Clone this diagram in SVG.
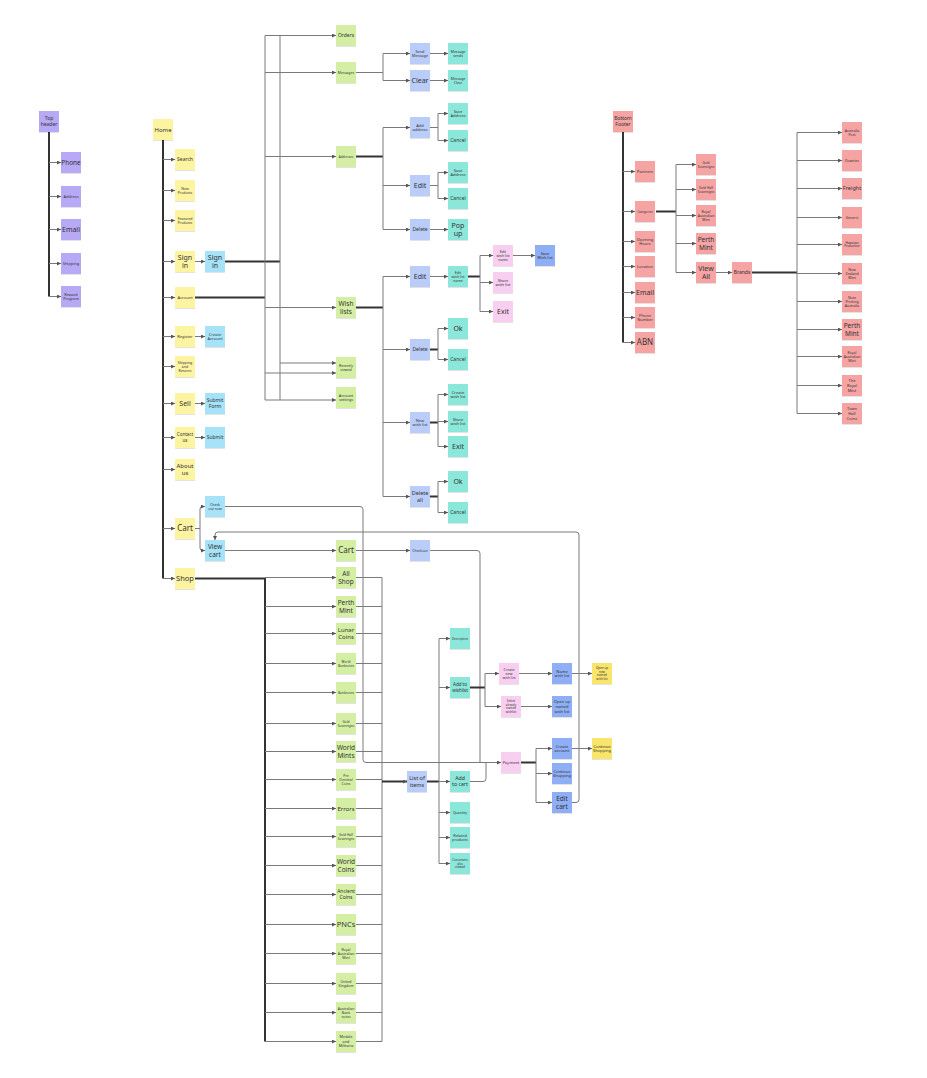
<svg xmlns="http://www.w3.org/2000/svg" width="927" height="1078" viewBox="0 0 927 1078">
<style>
text{font-family:"Noto Sans","Liberation Sans",sans-serif;fill:#333;text-anchor:middle}
rect.y,rect.b,rect.g,rect.p,rect.t,rect.k,rect.d,rect.o,rect.r,rect.v{filter:url(#sh)}
.y{fill:#fdf4a1}.b{fill:#a6e2f8}.g{fill:#d4efa4}.p{fill:#bacdf9}.t{fill:#8be7da}.k{fill:#f8cff0}.d{fill:#8eaef5}.o{fill:#f9e46c}.r{fill:#f5a3a3}.v{fill:#b7a9f5}
.c{fill:none;stroke:#7a7a7a;stroke-width:1}
.a{fill:none;stroke:#7a7a7a;stroke-width:1;marker-end:url(#ar)}
.h{fill:none;stroke:#333;stroke-width:2}
.ha{fill:none;stroke:#333;stroke-width:2;marker-end:url(#ar)}
</style>
<defs>
<marker id="ar" viewBox="0 0 6 6" refX="6" refY="3" markerWidth="4" markerHeight="4" orient="auto" markerUnits="userSpaceOnUse"><path d="M0,0 L6,3 L0,6z" fill="#555"/></marker>
<filter id="sh" x="-20%" y="-20%" width="140%" height="150%"><feDropShadow dx="0" dy="0.6" stdDeviation="0.5" flood-color="#000" flood-opacity="0.18"/></filter>
</defs>
<rect width="927" height="1078" fill="#fff"/>

<g id="connectors">
<path class="h" d="M49,131 V296.5"/>
<path class="a" d="M49,162.5 H61"/><path class="a" d="M49,196.5 H61"/><path class="a" d="M49,229.5 H61"/><path class="a" d="M49,263.5 H61"/><path class="a" d="M49,296.5 H61"/>
<path class="h" d="M163,140 V578.5"/>
<path class="a" d="M163,159.5 H175"/><path class="a" d="M163,190.5 H175"/><path class="a" d="M163,220.5 H175"/><path class="a" d="M163,261.5 H175"/><path class="a" d="M163,297.5 H175"/><path class="a" d="M163,336.5 H175"/><path class="a" d="M163,366.5 H175"/><path class="a" d="M163,403.5 H175"/><path class="a" d="M163,437.5 H175"/><path class="a" d="M163,469.5 H175"/><path class="a" d="M163,528.5 H175"/><path class="a" d="M163,578.5 H175"/>
<path class="a" d="M195,261.5 H205"/><path class="a" d="M195,336.5 H205"/><path class="a" d="M195,403.5 H205"/><path class="a" d="M195,437.5 H205"/>
<path class="c" d="M195,528.5 H200"/><path class="a" d="M200,528.5 V509 Q200,506.5 202.5,506.5 H205"/><path class="a" d="M200,528.5 V548 Q200,550.5 202.5,550.5 H205"/>
<path class="h" d="M225,261.5 H280"/><path class="h" d="M195,297.5 H265"/>
<path class="c" d="M265,35.5 V400"/><path class="c" d="M280,35.5 V400"/>
<path class="a" d="M265,35.5 H336"/><path class="a" d="M265,72.5 H336"/><path class="a" d="M265,156.5 H336"/><path class="a" d="M265,307.5 H336"/><path class="a" d="M280,363 H336"/><path class="a" d="M265,373 H336"/><path class="a" d="M265,400 H336"/>
<path class="c" d="M356,72.5 H383 M383,53.5 V80.5"/><path class="a" d="M383,53.5 H410"/><path class="a" d="M383,80.5 H410"/>
<path class="a" d="M430,53.5 H448"/><path class="a" d="M430,80.5 H448"/>
<path class="h" d="M356,156.5 H383"/><path class="c" d="M383,127.5 V229.5"/>
<path class="a" d="M383,127.5 H410"/><path class="a" d="M383,185.5 H410"/><path class="a" d="M383,229.5 H410"/>
<path class="c" d="M430,127.5 H438 M438,113.5 V140.5"/><path class="a" d="M438,113.5 H448"/><path class="a" d="M438,140.5 H448"/>
<path class="c" d="M430,185.5 H438 M438,172.5 V198.5"/><path class="a" d="M438,172.5 H448"/><path class="a" d="M438,198.5 H448"/>
<path class="a" d="M430,229.5 H448"/>
<path class="h" d="M356,307.5 H383"/><path class="c" d="M383,276.5 V496.5"/>
<path class="a" d="M383,276.5 H410"/><path class="a" d="M383,349.5 H410"/><path class="a" d="M383,422.5 H410"/><path class="a" d="M383,496.5 H410"/>
<path class="a" d="M430,276.5 H448"/>
<path class="h" d="M468,276.5 H480"/><path class="c" d="M480,255.5 V311.5"/><path class="a" d="M480,255.5 H493"/><path class="a" d="M480,282.5 H493"/><path class="a" d="M480,311.5 H493"/>
<path class="a" d="M513,255.5 H535"/>
<path class="h" d="M430,349.5 H438"/><path class="c" d="M438,328.5 V359.5"/><path class="a" d="M438,328.5 H448"/><path class="a" d="M438,359.5 H448"/>
<path class="h" d="M430,422.5 H438"/><path class="c" d="M438,394.5 V446.5"/><path class="a" d="M438,394.5 H448"/><path class="a" d="M438,421.5 H448"/><path class="a" d="M438,446.5 H448"/>
<path class="h" d="M430,496.5 H438"/><path class="c" d="M438,481.5 V512.5"/><path class="a" d="M438,481.5 H448"/><path class="a" d="M438,512.5 H448"/>
<path class="a" d="M225,506.5 H360 Q363,506.5 363,509.5 V759.5 Q363,762.5 366,762.5 H501"/>
<path class="a" d="M225,550.5 H336"/>
<path class="a" d="M356,550.5 H410"/>
<path class="c" d="M430,550.5 H477 Q480,550.5 480,553.5 V762.5"/>
<path class="a" d="M572,802.5 H576 Q579,802.5 579,799.5 V535 Q579,532 576,532 H218 Q215,532 215,535 V540"/>
<path class="h" d="M195,578.5 H265 V1041.5"/>
<path class="a" d="M265,577.5 H336"/><path class="a" d="M265,606.5 H336"/><path class="a" d="M265,633.5 H336"/><path class="a" d="M265,663.5 H336"/><path class="a" d="M265,692.5 H336"/><path class="a" d="M265,723.5 H336"/><path class="a" d="M265,751.5 H336"/><path class="a" d="M265,779.5 H336"/><path class="a" d="M265,808.5 H336"/><path class="a" d="M265,836.5 H336"/><path class="a" d="M265,865.5 H336"/><path class="a" d="M265,894.5 H336"/><path class="a" d="M265,924.5 H336"/><path class="a" d="M265,953.5 H336"/><path class="a" d="M265,983.5 H336"/><path class="a" d="M265,1012.5 H336"/><path class="a" d="M265,1041.5 H336"/>
<path class="c" d="M356,577.5 H382 V1041.5 H356 M356,606.5 H382 M356,633.5 H382 M356,663.5 H382 M356,692.5 H382 M356,723.5 H382 M356,751.5 H382 M356,779.5 H382 M356,808.5 H382 M356,836.5 H382 M356,865.5 H382 M356,894.5 H382 M356,924.5 H382 M356,953.5 H382 M356,983.5 H382 M356,1012.5 H382"/>
<path class="ha" d="M382,781.5 H407"/>
<path class="h" d="M427,781.5 H439"/><path class="c" d="M439,638.5 V863.5"/>
<path class="a" d="M439,638.5 H450"/><path class="a" d="M439,687.5 H450"/><path class="a" d="M439,781.5 H450"/><path class="a" d="M439,812.5 H450"/><path class="a" d="M439,837.5 H450"/><path class="a" d="M439,863.5 H450"/>
<path class="h" d="M470,687.5 H485"/><path class="c" d="M485,673.5 V706.5"/><path class="a" d="M485,673.5 H499"/><path class="a" d="M485,706.5 H501"/>
<path class="a" d="M519,673.5 H552"/><path class="a" d="M572,673.5 H592"/><path class="a" d="M521,706.5 H552"/>
<path class="c" d="M470,781.5 H483 Q486,781.5 486,778.5 V762.5"/>
<path class="h" d="M521,762.5 H536"/><path class="c" d="M536,748.5 V802.5"/>
<path class="a" d="M536,748.5 H552"/><path class="a" d="M536,773.5 H552"/><path class="a" d="M536,802.5 H552"/>
<path class="a" d="M572,748.5 H592"/>
<path class="h" d="M623,132 V342.5"/>
<path class="a" d="M623,171.5 H635"/><path class="a" d="M623,211.5 H635"/><path class="a" d="M623,241.5 H635"/><path class="a" d="M623,266.5 H635"/><path class="a" d="M623,292.5 H635"/><path class="a" d="M623,317.5 H635"/><path class="a" d="M623,342.5 H635"/>
<path class="h" d="M656,211.5 H676"/><path class="c" d="M676,164.5 V272.5"/>
<path class="a" d="M676,164.5 H696"/><path class="a" d="M676,189.5 H696"/><path class="a" d="M676,215.5 H696"/><path class="a" d="M676,243.5 H696"/><path class="a" d="M676,272.5 H696"/>
<path class="a" d="M716,272.5 H732"/>
<path class="h" d="M752,272.5 H797"/><path class="c" d="M797,132.5 V413.5"/>
<path class="a" d="M797,132.5 H842"/><path class="a" d="M797,160.5 H842"/><path class="a" d="M797,188.5 H842"/><path class="a" d="M797,217.5 H842"/><path class="a" d="M797,244.5 H842"/><path class="a" d="M797,273.5 H842"/><path class="a" d="M797,301.5 H842"/><path class="a" d="M797,329.5 H842"/><path class="a" d="M797,356.5 H842"/><path class="a" d="M797,385.5 H842"/><path class="a" d="M797,413.5 H842"/>
</g>

<g id="top-header"><rect class="v" x="39" y="111" width="20" height="21"/><text x="49" y="121.5" font-size="5"><tspan x="49" dy="-0.25em">Top</tspan><tspan x="49" dy="1.2em">header</tspan></text></g>
<g id="th-phone"><rect class="v" x="61" y="152" width="20" height="21"/><text x="71" y="162.5" font-size="6.5" dy="0.35em">Phone</text></g>
<g id="th-address"><rect class="v" x="61" y="186" width="20" height="21"/><text x="71" y="196.5" font-size="4" dy="0.35em">Address</text></g>
<g id="th-email"><rect class="v" x="61" y="219" width="20" height="21"/><text x="71" y="229.5" font-size="7" dy="0.35em">Email</text></g>
<g id="th-shipping"><rect class="v" x="61" y="253" width="20" height="21"/><text x="71" y="263.5" font-size="4" dy="0.35em">Shipping</text></g>
<g id="th-reward"><rect class="v" x="61" y="286" width="20" height="21"/><text x="71" y="296.5" font-size="3.8"><tspan x="71" dy="-0.25em">Reward</tspan><tspan x="71" dy="1.2em">Program</tspan></text></g>

<g id="home"><rect class="y" x="153" y="119" width="20" height="21"/><text x="163" y="129.5" font-size="6" dy="0.35em">Home</text></g>
<g id="search"><rect class="y" x="175" y="149" width="20" height="21"/><text x="185" y="159.5" font-size="5" dy="0.35em">Search</text></g>
<g id="new-products"><rect class="y" x="175" y="180" width="20" height="21"/><text x="185" y="190.5" font-size="3.5"><tspan x="185" dy="-0.25em">New</tspan><tspan x="185" dy="1.2em">Products</tspan></text></g>
<g id="featured"><rect class="y" x="175" y="210" width="20" height="21"/><text x="185" y="220.5" font-size="3.5"><tspan x="185" dy="-0.25em">Featured</tspan><tspan x="185" dy="1.2em">Products</tspan></text></g>
<g id="sign-in-y"><rect class="y" x="175" y="251" width="20" height="21"/><text x="185" y="261.5" font-size="7"><tspan x="185" dy="-0.25em">Sign</tspan><tspan x="185" dy="1.2em">in</tspan></text></g>
<g id="sign-in-b"><rect class="b" x="205" y="251" width="20" height="21"/><text x="215" y="261.5" font-size="7"><tspan x="215" dy="-0.25em">Sign</tspan><tspan x="215" dy="1.2em">in</tspan></text></g>
<g id="account"><rect class="y" x="175" y="287" width="20" height="21"/><text x="185" y="297.5" font-size="4" dy="0.35em">Account</text></g>
<g id="register"><rect class="y" x="175" y="326" width="20" height="21"/><text x="185" y="336.5" font-size="4" dy="0.35em">Register</text></g>
<g id="create-account"><rect class="b" x="205" y="326" width="20" height="21"/><text x="215" y="336.5" font-size="4"><tspan x="215" dy="-0.25em">Create</tspan><tspan x="215" dy="1.2em">Account</tspan></text></g>
<g id="shipping-returns"><rect class="y" x="175" y="356" width="20" height="21"/><text x="185" y="366.5" font-size="3.5"><tspan x="185" dy="-0.85em">Shipping</tspan><tspan x="185" dy="1.2em">and</tspan><tspan x="185" dy="1.2em">Returns</tspan></text></g>
<g id="sell"><rect class="y" x="175" y="393" width="20" height="21"/><text x="185" y="403.5" font-size="7" dy="0.35em">Sell</text></g>
<g id="submit-form"><rect class="b" x="205" y="393" width="20" height="21"/><text x="215" y="403.5" font-size="5"><tspan x="215" dy="-0.25em">Submit</tspan><tspan x="215" dy="1.2em">Form</tspan></text></g>
<g id="contact"><rect class="y" x="175" y="427" width="20" height="21"/><text x="185" y="437.5" font-size="4.5"><tspan x="185" dy="-0.25em">Contact</tspan><tspan x="185" dy="1.2em">us</tspan></text></g>
<g id="submit"><rect class="b" x="205" y="427" width="20" height="21"/><text x="215" y="437.5" font-size="5" dy="0.35em">Submit</text></g>
<g id="about"><rect class="y" x="175" y="459" width="20" height="21"/><text x="185" y="469.5" font-size="6"><tspan x="185" dy="-0.25em">About</tspan><tspan x="185" dy="1.2em">us</tspan></text></g>
<g id="check-out-now"><rect class="b" x="205" y="496" width="20" height="21"/><text x="215" y="506.5" font-size="3.5"><tspan x="215" dy="-0.25em">Check</tspan><tspan x="215" dy="1.2em">out now</tspan></text></g>
<g id="cart-y"><rect class="y" x="175" y="518" width="20" height="21"/><text x="185" y="528.5" font-size="8" dy="0.35em">Cart</text></g>
<g id="view-cart"><rect class="b" x="205" y="540" width="20" height="21"/><text x="215" y="550.5" font-size="6.5"><tspan x="215" dy="-0.25em">View</tspan><tspan x="215" dy="1.2em">cart</tspan></text></g>
<g id="shop"><rect class="y" x="175" y="568" width="20" height="21"/><text x="185" y="578.5" font-size="7.5" dy="0.35em">Shop</text></g>

<g id="orders"><rect class="g" x="336" y="25" width="20" height="21"/><text x="346" y="35.5" font-size="5" dy="0.35em">Orders</text></g>
<g id="messages"><rect class="g" x="336" y="62" width="20" height="21"/><text x="346" y="72.5" font-size="3.5" dy="0.35em">Messages</text></g>
<g id="addresses"><rect class="g" x="336" y="146" width="20" height="21"/><text x="346" y="156.5" font-size="3" dy="0.35em">Addresses</text></g>
<g id="wish-lists"><rect class="g" x="336" y="297" width="20" height="21"/><text x="346" y="307.5" font-size="6.5"><tspan x="346" dy="-0.25em">Wish</tspan><tspan x="346" dy="1.2em">lists</tspan></text></g>
<g id="recently-viewed"><rect class="g" x="336" y="357" width="20" height="21"/><text x="346" y="367.5" font-size="3.5"><tspan x="346" dy="-0.25em">Recently</tspan><tspan x="346" dy="1.2em">viewed</tspan></text></g>
<g id="account-settings"><rect class="g" x="336" y="387" width="20" height="21"/><text x="346" y="397.5" font-size="3.8"><tspan x="346" dy="-0.25em">Account</tspan><tspan x="346" dy="1.2em">settings</tspan></text></g>

<g id="send-message"><rect class="p" x="410" y="43" width="20" height="21"/><text x="420" y="53.5" font-size="3.8"><tspan x="420" dy="-0.25em">Send</tspan><tspan x="420" dy="1.2em">Message</tspan></text></g>
<g id="clear"><rect class="p" x="410" y="70" width="20" height="21"/><text x="420" y="80.5" font-size="7" dy="0.35em">Clear</text></g>
<g id="message-sends"><rect class="t" x="448" y="43" width="20" height="21"/><text x="458" y="53.5" font-size="3.5"><tspan x="458" dy="-0.25em">Message</tspan><tspan x="458" dy="1.2em">sends</tspan></text></g>
<g id="message-clear"><rect class="t" x="448" y="70" width="20" height="21"/><text x="458" y="80.5" font-size="3.5"><tspan x="458" dy="-0.25em">Message</tspan><tspan x="458" dy="1.2em">Clear</tspan></text></g>

<g id="add-address"><rect class="p" x="410" y="117" width="20" height="21"/><text x="420" y="127.5" font-size="4"><tspan x="420" dy="-0.25em">Add</tspan><tspan x="420" dy="1.2em">address</tspan></text></g>
<g id="edit-address"><rect class="p" x="410" y="175" width="20" height="21"/><text x="420" y="185.5" font-size="7" dy="0.35em">Edit</text></g>
<g id="delete-address"><rect class="p" x="410" y="219" width="20" height="21"/><text x="420" y="229.5" font-size="5" dy="0.35em">Delete</text></g>
<g id="save-address-1"><rect class="t" x="448" y="103" width="20" height="21"/><text x="458" y="113.5" font-size="4"><tspan x="458" dy="-0.25em">Save</tspan><tspan x="458" dy="1.2em">Address</tspan></text></g>
<g id="cancel-1"><rect class="t" x="448" y="130" width="20" height="21"/><text x="458" y="140.5" font-size="5" dy="0.35em">Cancel</text></g>
<g id="save-address-2"><rect class="t" x="448" y="162" width="20" height="21"/><text x="458" y="172.5" font-size="4"><tspan x="458" dy="-0.25em">Save</tspan><tspan x="458" dy="1.2em">Address</tspan></text></g>
<g id="cancel-2"><rect class="t" x="448" y="188" width="20" height="21"/><text x="458" y="198.5" font-size="5" dy="0.35em">Cancel</text></g>
<g id="pop-up"><rect class="t" x="448" y="219" width="20" height="21"/><text x="458" y="229.5" font-size="7"><tspan x="458" dy="-0.25em">Pop</tspan><tspan x="458" dy="1.2em">up</tspan></text></g>

<g id="edit-wl"><rect class="p" x="410" y="266" width="20" height="21"/><text x="420" y="276.5" font-size="7" dy="0.35em">Edit</text></g>
<g id="delete-wl"><rect class="p" x="410" y="339" width="20" height="21"/><text x="420" y="349.5" font-size="5" dy="0.35em">Delete</text></g>
<g id="new-wl"><rect class="p" x="410" y="412" width="20" height="21"/><text x="420" y="422.5" font-size="4"><tspan x="420" dy="-0.25em">New</tspan><tspan x="420" dy="1.2em">wish list</tspan></text></g>
<g id="delete-all"><rect class="p" x="410" y="486" width="20" height="21"/><text x="420" y="496.5" font-size="5.5"><tspan x="420" dy="-0.25em">Delete</tspan><tspan x="420" dy="1.2em">all</tspan></text></g>
<g id="edit-wl-name-t"><rect class="t" x="448" y="266" width="20" height="21"/><text x="458" y="276.5" font-size="3.5"><tspan x="458" dy="-0.85em">Edit</tspan><tspan x="458" dy="1.2em">wish list</tspan><tspan x="458" dy="1.2em">name</tspan></text></g>
<g id="edit-wl-name-p"><rect class="k" x="493" y="245" width="20" height="21"/><text x="503" y="255.5" font-size="3.5"><tspan x="503" dy="-0.85em">Edit</tspan><tspan x="503" dy="1.2em">wish list</tspan><tspan x="503" dy="1.2em">name</tspan></text></g>
<g id="share-wl-p"><rect class="k" x="493" y="272" width="20" height="21"/><text x="503" y="282.5" font-size="4"><tspan x="503" dy="-0.25em">Share</tspan><tspan x="503" dy="1.2em">wish list</tspan></text></g>
<g id="exit-p"><rect class="k" x="493" y="301" width="20" height="21"/><text x="503" y="311.5" font-size="7" dy="0.35em">Exit</text></g>
<g id="save-wl"><rect class="d" x="535" y="245" width="20" height="21"/><text x="545" y="255.5" font-size="4"><tspan x="545" dy="-0.25em">Save</tspan><tspan x="545" dy="1.2em">Wish list</tspan></text></g>
<g id="ok-1"><rect class="t" x="448" y="318" width="20" height="21"/><text x="458" y="328.5" font-size="7" dy="0.35em">Ok</text></g>
<g id="cancel-3"><rect class="t" x="448" y="349" width="20" height="21"/><text x="458" y="359.5" font-size="5" dy="0.35em">Cancel</text></g>
<g id="create-wl"><rect class="t" x="448" y="384" width="20" height="21"/><text x="458" y="394.5" font-size="4"><tspan x="458" dy="-0.25em">Create</tspan><tspan x="458" dy="1.2em">wish list</tspan></text></g>
<g id="share-wl-t"><rect class="t" x="448" y="411" width="20" height="21"/><text x="458" y="421.5" font-size="4"><tspan x="458" dy="-0.25em">Share</tspan><tspan x="458" dy="1.2em">wish list</tspan></text></g>
<g id="exit-t"><rect class="t" x="448" y="436" width="20" height="21"/><text x="458" y="446.5" font-size="7" dy="0.35em">Exit</text></g>
<g id="ok-2"><rect class="t" x="448" y="471" width="20" height="21"/><text x="458" y="481.5" font-size="7" dy="0.35em">Ok</text></g>
<g id="cancel-4"><rect class="t" x="448" y="502" width="20" height="21"/><text x="458" y="512.5" font-size="5" dy="0.35em">Cancel</text></g>

<g id="cart-g"><rect class="g" x="336" y="540" width="20" height="21"/><text x="346" y="550.5" font-size="8" dy="0.35em">Cart</text></g>
<g id="checkout"><rect class="p" x="410" y="540" width="20" height="21"/><text x="420" y="550.5" font-size="3.5" dy="0.35em">Checkout</text></g>

<g id="s-all-shop"><rect class="g" x="336" y="567" width="20" height="21"/><text x="346" y="577.5" font-size="6.5"><tspan x="346" dy="-0.25em">All</tspan><tspan x="346" dy="1.2em">Shop</tspan></text></g>
<g id="s-perth-mint"><rect class="g" x="336" y="596" width="20" height="21"/><text x="346" y="606.5" font-size="6.5"><tspan x="346" dy="-0.25em">Perth</tspan><tspan x="346" dy="1.2em">Mint</tspan></text></g>
<g id="s-lunar"><rect class="g" x="336" y="623" width="20" height="21"/><text x="346" y="633.5" font-size="6"><tspan x="346" dy="-0.25em">Lunar</tspan><tspan x="346" dy="1.2em">Coins</tspan></text></g>
<g id="s-world-banknotes"><rect class="g" x="336" y="653" width="20" height="21"/><text x="346" y="663.5" font-size="3.2"><tspan x="346" dy="-0.25em">World</tspan><tspan x="346" dy="1.2em">Banknotes</tspan></text></g>
<g id="s-banknotes"><rect class="g" x="336" y="682" width="20" height="21"/><text x="346" y="692.5" font-size="3.2" dy="0.35em">Banknotes</text></g>
<g id="s-gold-sov"><rect class="g" x="336" y="713" width="20" height="21"/><text x="346" y="723.5" font-size="3.2"><tspan x="346" dy="-0.25em">Gold</tspan><tspan x="346" dy="1.2em">Sovereigns</tspan></text></g>
<g id="s-world-mints"><rect class="g" x="336" y="741" width="20" height="21"/><text x="346" y="751.5" font-size="6.5"><tspan x="346" dy="-0.25em">World</tspan><tspan x="346" dy="1.2em">Mints</tspan></text></g>
<g id="s-pre-decimal"><rect class="g" x="336" y="769" width="20" height="21"/><text x="346" y="779.5" font-size="3.5"><tspan x="346" dy="-0.85em">Pre</tspan><tspan x="346" dy="1.2em">Decimal</tspan><tspan x="346" dy="1.2em">Coins</tspan></text></g>
<g id="s-errors"><rect class="g" x="336" y="798" width="20" height="21"/><text x="346" y="808.5" font-size="6" dy="0.35em">Errors</text></g>
<g id="s-gold-half"><rect class="g" x="336" y="826" width="20" height="21"/><text x="346" y="836.5" font-size="3.2"><tspan x="346" dy="-0.25em">Gold Half</tspan><tspan x="346" dy="1.2em">Sovereigns</tspan></text></g>
<g id="s-world-coins"><rect class="g" x="336" y="855" width="20" height="21"/><text x="346" y="865.5" font-size="6.5"><tspan x="346" dy="-0.25em">World</tspan><tspan x="346" dy="1.2em">Coins</tspan></text></g>
<g id="s-ancient"><rect class="g" x="336" y="884" width="20" height="21"/><text x="346" y="894.5" font-size="5"><tspan x="346" dy="-0.25em">Ancient</tspan><tspan x="346" dy="1.2em">Coins</tspan></text></g>
<g id="s-pncs"><rect class="g" x="336" y="914" width="20" height="21"/><text x="346" y="924.5" font-size="7.5" dy="0.35em">PNCs</text></g>
<g id="s-ram"><rect class="g" x="336" y="943" width="20" height="21"/><text x="346" y="953.5" font-size="3.5"><tspan x="346" dy="-0.85em">Royal</tspan><tspan x="346" dy="1.2em">Australian</tspan><tspan x="346" dy="1.2em">Mint</tspan></text></g>
<g id="s-uk"><rect class="g" x="336" y="973" width="20" height="21"/><text x="346" y="983.5" font-size="3.5"><tspan x="346" dy="-0.25em">United</tspan><tspan x="346" dy="1.2em">Kingdom</tspan></text></g>
<g id="s-aus-banknotes"><rect class="g" x="336" y="1002" width="20" height="21"/><text x="346" y="1012.5" font-size="3.5"><tspan x="346" dy="-0.85em">Australian</tspan><tspan x="346" dy="1.2em">Bank</tspan><tspan x="346" dy="1.2em">notes</tspan></text></g>
<g id="s-medals"><rect class="g" x="336" y="1031" width="20" height="21"/><text x="346" y="1041.5" font-size="3.8"><tspan x="346" dy="-0.85em">Medals</tspan><tspan x="346" dy="1.2em">and</tspan><tspan x="346" dy="1.2em">Militaria</tspan></text></g>

<g id="list-items"><rect class="p" x="407" y="771" width="20" height="21"/><text x="417" y="781.5" font-size="5.5"><tspan x="417" dy="-0.25em">List of</tspan><tspan x="417" dy="1.2em">items</tspan></text></g>
<g id="description"><rect class="t" x="450" y="628" width="20" height="21"/><text x="460" y="638.5" font-size="3" dy="0.35em">Description</text></g>
<g id="add-wishlist"><rect class="t" x="450" y="677" width="20" height="21"/><text x="460" y="687.5" font-size="4.5"><tspan x="460" dy="-0.25em">Add to</tspan><tspan x="460" dy="1.2em">wishlist</tspan></text></g>
<g id="add-cart"><rect class="t" x="450" y="771" width="20" height="21"/><text x="460" y="781.5" font-size="5.2"><tspan x="460" dy="-0.25em">Add</tspan><tspan x="460" dy="1.2em">to cart</tspan></text></g>
<g id="quantity"><rect class="t" x="450" y="802" width="20" height="21"/><text x="460" y="812.5" font-size="3.5" dy="0.35em">Quantity</text></g>
<g id="related"><rect class="t" x="450" y="827" width="20" height="21"/><text x="460" y="837.5" font-size="3.8"><tspan x="460" dy="-0.25em">Related</tspan><tspan x="460" dy="1.2em">products</tspan></text></g>
<g id="customers"><rect class="t" x="450" y="853" width="20" height="21"/><text x="460" y="863.5" font-size="3"><tspan x="460" dy="-0.85em">Customers</tspan><tspan x="460" dy="1.2em">also</tspan><tspan x="460" dy="1.2em">viewed</tspan></text></g>
<g id="create-new-wl"><rect class="k" x="499" y="663" width="20" height="21"/><text x="509" y="673.5" font-size="3.5"><tspan x="509" dy="-0.85em">Create</tspan><tspan x="509" dy="1.2em">new</tspan><tspan x="509" dy="1.2em">wish list</tspan></text></g>
<g id="select-wl"><rect class="k" x="501" y="696" width="20" height="21"/><text x="511" y="706.5" font-size="3"><tspan x="511" dy="-1.45em">Select</tspan><tspan x="511" dy="1.2em">already</tspan><tspan x="511" dy="1.2em">named</tspan><tspan x="511" dy="1.2em">wishlist</tspan></text></g>
<g id="name-wl"><rect class="d" x="552" y="663" width="20" height="21"/><text x="562" y="673.5" font-size="4"><tspan x="562" dy="-0.25em">Name</tspan><tspan x="562" dy="1.2em">wish list</tspan></text></g>
<g id="open-named-wl"><rect class="d" x="552" y="696" width="20" height="21"/><text x="562" y="706.5" font-size="4"><tspan x="562" dy="-0.85em">Open up</tspan><tspan x="562" dy="1.2em">named</tspan><tspan x="562" dy="1.2em">wish list</tspan></text></g>
<g id="open-new-wl"><rect class="o" x="592" y="663" width="20" height="21"/><text x="602" y="673.5" font-size="3"><tspan x="602" dy="-1.45em">Open up</tspan><tspan x="602" dy="1.2em">new</tspan><tspan x="602" dy="1.2em">named</tspan><tspan x="602" dy="1.2em">wish list</tspan></text></g>
<g id="payment"><rect class="k" x="501" y="752" width="20" height="21"/><text x="511" y="762.5" font-size="4" dy="0.35em">Payment</text></g>
<g id="create-account-d"><rect class="d" x="552" y="738" width="20" height="21"/><text x="562" y="748.5" font-size="4"><tspan x="562" dy="-0.25em">Create</tspan><tspan x="562" dy="1.2em">account</tspan></text></g>
<g id="continue-shopping-d"><rect class="d" x="552" y="763" width="20" height="21"/><text x="562" y="773.5" font-size="4"><tspan x="562" dy="-0.25em">Continue</tspan><tspan x="562" dy="1.2em">Shopping</tspan></text></g>
<g id="edit-cart"><rect class="d" x="552" y="792" width="20" height="21"/><text x="562" y="802.5" font-size="6.5"><tspan x="562" dy="-0.25em">Edit</tspan><tspan x="562" dy="1.2em">cart</tspan></text></g>
<g id="continue-shopping-o"><rect class="o" x="592" y="738" width="20" height="21"/><text x="602" y="748.5" font-size="4"><tspan x="602" dy="-0.25em">Continue</tspan><tspan x="602" dy="1.2em">Shopping</tspan></text></g>

<g id="bottom-footer"><rect class="r" x="613" y="111" width="20" height="21"/><text x="623" y="121.5" font-size="5"><tspan x="623" dy="-0.25em">Bottom</tspan><tspan x="623" dy="1.2em">Footer</tspan></text></g>
<g id="f-partners"><rect class="r" x="635" y="161" width="20" height="21"/><text x="645" y="171.5" font-size="4" dy="0.35em">Partners</text></g>
<g id="f-categories"><rect class="r" x="635" y="201" width="20" height="21"/><text x="645" y="211.5" font-size="3" dy="0.35em">Categories</text></g>
<g id="f-opening"><rect class="r" x="635" y="231" width="20" height="21"/><text x="645" y="241.5" font-size="4"><tspan x="645" dy="-0.25em">Opening</tspan><tspan x="645" dy="1.2em">Hours</tspan></text></g>
<g id="f-location"><rect class="r" x="635" y="256" width="20" height="21"/><text x="645" y="266.5" font-size="4" dy="0.35em">Location</text></g>
<g id="f-email"><rect class="r" x="635" y="282" width="20" height="21"/><text x="645" y="292.5" font-size="7" dy="0.35em">Email</text></g>
<g id="f-phone"><rect class="r" x="635" y="307" width="20" height="21"/><text x="645" y="317.5" font-size="4"><tspan x="645" dy="-0.25em">Phone</tspan><tspan x="645" dy="1.2em">Number</tspan></text></g>
<g id="f-abn"><rect class="r" x="635" y="332" width="20" height="21"/><text x="645" y="342.5" font-size="8" dy="0.35em">ABN</text></g>
<g id="c-gold-sov"><rect class="r" x="696" y="154" width="20" height="21"/><text x="706" y="164.5" font-size="3.2"><tspan x="706" dy="-0.25em">Gold</tspan><tspan x="706" dy="1.2em">Sovereigns</tspan></text></g>
<g id="c-gold-half"><rect class="r" x="696" y="179" width="20" height="21"/><text x="706" y="189.5" font-size="3.2"><tspan x="706" dy="-0.25em">Gold Half</tspan><tspan x="706" dy="1.2em">Sovereigns</tspan></text></g>
<g id="c-ram"><rect class="r" x="696" y="205" width="20" height="21"/><text x="706" y="215.5" font-size="3.5"><tspan x="706" dy="-0.85em">Royal</tspan><tspan x="706" dy="1.2em">Australian</tspan><tspan x="706" dy="1.2em">Mint</tspan></text></g>
<g id="c-perth"><rect class="r" x="696" y="233" width="20" height="21"/><text x="706" y="243.5" font-size="6.5"><tspan x="706" dy="-0.25em">Perth</tspan><tspan x="706" dy="1.2em">Mint</tspan></text></g>
<g id="c-view-all"><rect class="r" x="696" y="262" width="20" height="21"/><text x="706" y="272.5" font-size="7"><tspan x="706" dy="-0.25em">View</tspan><tspan x="706" dy="1.2em">All</tspan></text></g>
<g id="brands"><rect class="r" x="732" y="262" width="20" height="21"/><text x="742" y="272.5" font-size="5" dy="0.35em">Brands</text></g>
<g id="b-auspost"><rect class="r" x="842" y="122" width="20" height="21"/><text x="852" y="132.5" font-size="3.5"><tspan x="852" dy="-0.25em">Australia</tspan><tspan x="852" dy="1.2em">Post</tspan></text></g>
<g id="b-downies"><rect class="r" x="842" y="150" width="20" height="21"/><text x="852" y="160.5" font-size="3.5" dy="0.35em">Downies</text></g>
<g id="b-freight"><rect class="r" x="842" y="178" width="20" height="21"/><text x="852" y="188.5" font-size="5.5" dy="0.35em">Freight</text></g>
<g id="b-generic"><rect class="r" x="842" y="207" width="20" height="21"/><text x="852" y="217.5" font-size="3.5" dy="0.35em">Generic</text></g>
<g id="b-hawaiian"><rect class="r" x="842" y="234" width="20" height="21"/><text x="852" y="244.5" font-size="3"><tspan x="852" dy="-0.25em">Hawaiian</tspan><tspan x="852" dy="1.2em">Production</tspan></text></g>
<g id="b-nz-mint"><rect class="r" x="842" y="263" width="20" height="21"/><text x="852" y="273.5" font-size="3.5"><tspan x="852" dy="-0.85em">New</tspan><tspan x="852" dy="1.2em">Zealand</tspan><tspan x="852" dy="1.2em">Mint</tspan></text></g>
<g id="b-npa"><rect class="r" x="842" y="291" width="20" height="21"/><text x="852" y="301.5" font-size="3.5"><tspan x="852" dy="-0.85em">Note</tspan><tspan x="852" dy="1.2em">Printing</tspan><tspan x="852" dy="1.2em">Australia</tspan></text></g>
<g id="b-perth"><rect class="r" x="842" y="319" width="20" height="21"/><text x="852" y="329.5" font-size="6.5"><tspan x="852" dy="-0.25em">Perth</tspan><tspan x="852" dy="1.2em">Mint</tspan></text></g>
<g id="b-ram"><rect class="r" x="842" y="346" width="20" height="21"/><text x="852" y="356.5" font-size="3.5"><tspan x="852" dy="-0.85em">Royal</tspan><tspan x="852" dy="1.2em">Australian</tspan><tspan x="852" dy="1.2em">Mint</tspan></text></g>
<g id="b-royal-mint"><rect class="r" x="842" y="375" width="20" height="21"/><text x="852" y="385.5" font-size="4"><tspan x="852" dy="-0.85em">The</tspan><tspan x="852" dy="1.2em">Royal</tspan><tspan x="852" dy="1.2em">Mint</tspan></text></g>
<g id="b-town-hall"><rect class="r" x="842" y="403" width="20" height="21"/><text x="852" y="413.5" font-size="4"><tspan x="852" dy="-0.85em">Town</tspan><tspan x="852" dy="1.2em">Hall</tspan><tspan x="852" dy="1.2em">Coins</tspan></text></g>
</svg>
